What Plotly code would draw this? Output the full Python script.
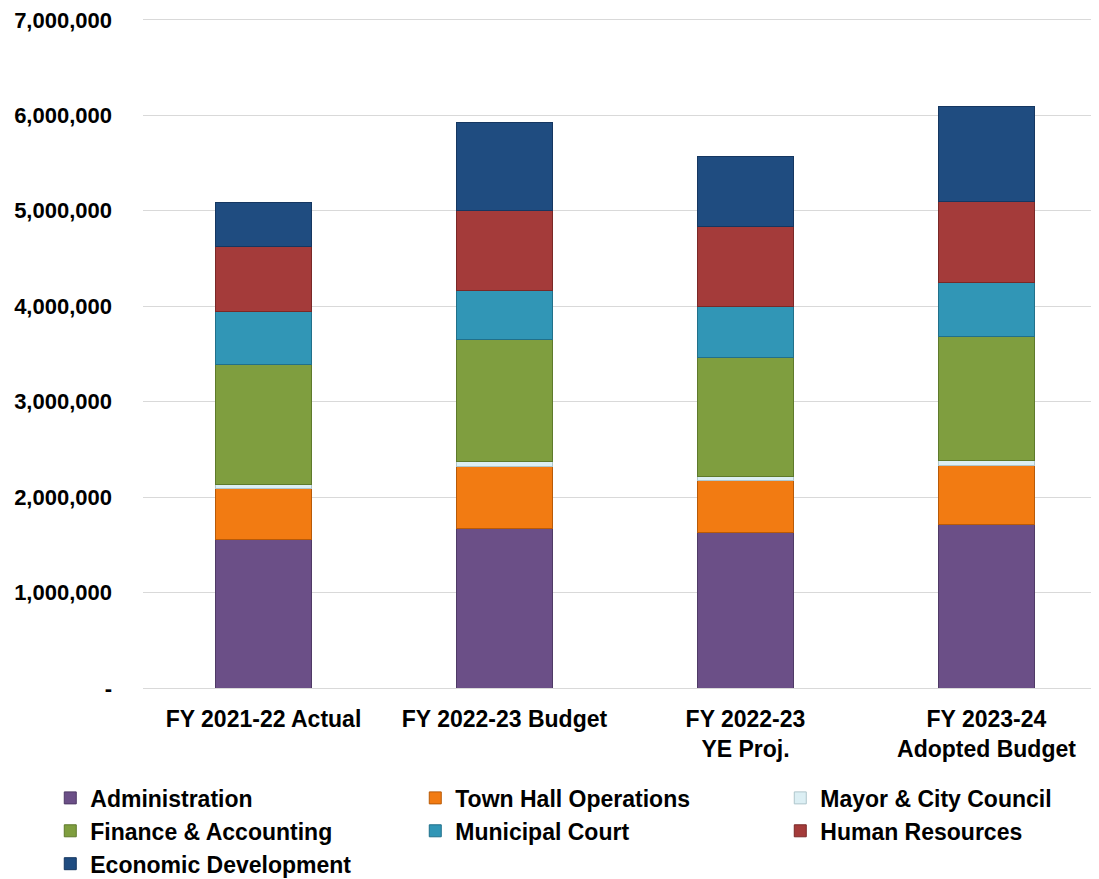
import plotly.graph_objects as go

categories = ["FY 2021-22 Actual", "FY 2022-23 Budget", "FY 2022-23<br>YE Proj.", "FY 2023-24<br>Adopted Budget"]

administration = [1560000, 1675000, 1630000, 1710000]
town_hall_operations = [530000, 645000, 540000, 620000]
mayor_city_council = [45000, 50000, 45000, 50000]
finance_accounting = [1255000, 1280000, 1245000, 1300000]
municipal_court = [560000, 510000, 540000, 570000]
human_resources = [680000, 840000, 835000, 850000]
economic_development = [460000, 930000, 735000, 990000]

series = [
    ("Administration", administration, "#6B4F87", "#4F3A66"),
    ("Town Hall Operations", town_hall_operations, "#F27B12", "#B85A08"),
    ("Mayor & City Council", mayor_city_council, "#DCEFF4", "#AFC6CC"),
    ("Finance & Accounting", finance_accounting, "#7F9E3F", "#5E7A2B"),
    ("Municipal Court", municipal_court, "#3196B6", "#21708A"),
    ("Human Resources", human_resources, "#A43B3A", "#7A2827"),
    ("Economic Development", economic_development, "#1F4C80", "#153761"),
]

fig = go.Figure()
for name, vals, col, lcol in series:
    fig.add_trace(go.Bar(
        x=list(range(len(categories))), y=vals, name=name,
        marker=dict(color=col, line=dict(color=lcol, width=1)),
        width=0.40,
    ))

font_family = "Liberation Sans, Arial, sans-serif"

fig.update_layout(
    barmode="stack",
    width=1091, height=871,
    margin=dict(l=135, r=0, t=10, b=191, autoexpand=False),
    paper_bgcolor="white", plot_bgcolor="white",
    font=dict(family=font_family, size=22, color="black"),
    showlegend=True,
    legend=dict(
        orientation="h",
        x=-0.097, xanchor="left",
        y=-0.132, yanchor="top",
        entrywidth=320, entrywidthmode="pixels",
        font=dict(family=font_family, size=23, color="black", weight="bold"),
        traceorder="normal",
    ),
    xaxis=dict(
        tickmode="array",
        tickvals=list(range(len(categories))),
        ticktext=[f"<b>{c}</b>" for c in categories],
        range=[-0.5, 3.467],
        showgrid=False,
        showline=True, linecolor="#D9D9D9", linewidth=1,
        ticks="", ticklabelstandoff=10,
        automargin=False,
        tickfont=dict(family=font_family, size=23, color="black"),
    ),
    yaxis=dict(
        range=[0, 7020000],
        tickmode="array",
        tickvals=[0, 1000000, 2000000, 3000000, 4000000, 5000000, 6000000, 7000000],
        ticktext=["<b>-</b>", "<b>1,000,000</b>", "<b>2,000,000</b>", "<b>3,000,000</b>",
                  "<b>4,000,000</b>", "<b>5,000,000</b>", "<b>6,000,000</b>", "<b>7,000,000</b>"],
        showgrid=True, gridcolor="#D9D9D9", gridwidth=1,
        zeroline=False,
        ticks="", ticklabelstandoff=30,
        ticklabeloverflow="allow",
        automargin=False,
        tickfont=dict(family=font_family, size=22, color="black"),
    ),
)

fig.write_html("out.html")
